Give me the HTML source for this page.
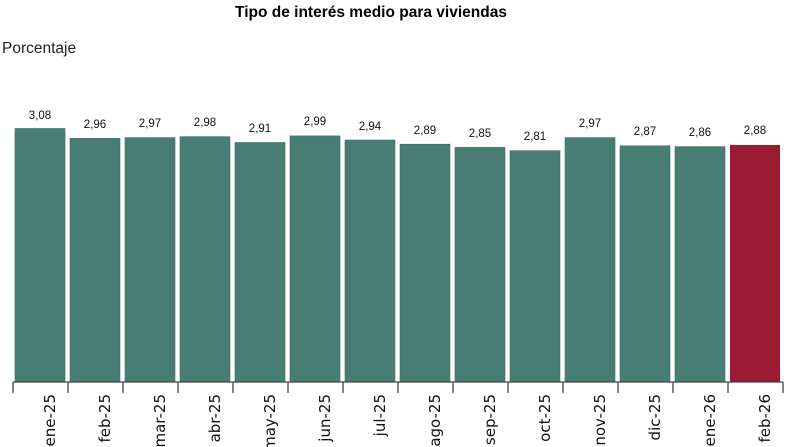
<!DOCTYPE html>
<html><head><meta charset="utf-8"><style>
html,body{margin:0;padding:0;background:#fff;}
svg{display:block;}
</style></head><body>
<svg width="794" height="447" viewBox="0 0 794 447" xmlns="http://www.w3.org/2000/svg" font-family="Liberation Sans, Arial, sans-serif">
<text x="371" y="17" text-anchor="middle" font-size="15.5" font-weight="bold" fill="#000">Tipo de interés medio para viviendas</text>
<text x="2" y="53" font-size="15.5" fill="#222">Porcentaje</text>
<g fill="#477d74" stroke="#3d6d65" stroke-width="0.6">
<rect x="15" y="128.5" width="50" height="253.5"/>
<rect x="70" y="138.4" width="50" height="243.6"/>
<rect x="125" y="137.6" width="50" height="244.4"/>
<rect x="180" y="136.7" width="50" height="245.3"/>
<rect x="235" y="142.5" width="50" height="239.5"/>
<rect x="290" y="135.9" width="50" height="246.1"/>
<rect x="345" y="140" width="50" height="242"/>
<rect x="400" y="144.2" width="50" height="237.8"/>
<rect x="455" y="147.4" width="50" height="234.6"/>
<rect x="510" y="150.7" width="50" height="231.3"/>
<rect x="565" y="137.6" width="50" height="244.4"/>
<rect x="620" y="145.8" width="50" height="236.2"/>
<rect x="675" y="146.6" width="50" height="235.4"/>
</g>
<rect x="730" y="145" width="50" height="237" fill="#9b1b33"/>
<g font-size="11.5" text-anchor="middle" fill="#111">
<text x="40" y="119">3,08</text>
<text x="95" y="128">2,96</text>
<text x="150" y="127">2,97</text>
<text x="205" y="126">2,98</text>
<text x="260" y="132">2,91</text>
<text x="315" y="125">2,99</text>
<text x="370" y="130">2,94</text>
<text x="425" y="134">2,89</text>
<text x="480" y="137">2,85</text>
<text x="535" y="140">2,81</text>
<text x="590" y="127">2,97</text>
<text x="645" y="135">2,87</text>
<text x="700" y="136">2,86</text>
<text x="755" y="134">2,88</text>
</g>
<g stroke="#444" stroke-width="1.3" fill="none">
<line x1="13" y1="382" x2="783" y2="382"/>
<line x1="13" y1="382" x2="13" y2="393"/><line x1="68" y1="382" x2="68" y2="393"/><line x1="123" y1="382" x2="123" y2="393"/><line x1="178" y1="382" x2="178" y2="393"/><line x1="233" y1="382" x2="233" y2="393"/><line x1="288" y1="382" x2="288" y2="393"/><line x1="343" y1="382" x2="343" y2="393"/><line x1="398" y1="382" x2="398" y2="393"/><line x1="453" y1="382" x2="453" y2="393"/><line x1="508" y1="382" x2="508" y2="393"/><line x1="563" y1="382" x2="563" y2="393"/><line x1="618" y1="382" x2="618" y2="393"/><line x1="673" y1="382" x2="673" y2="393"/><line x1="728" y1="382" x2="728" y2="393"/><line x1="783" y1="382" x2="783" y2="393"/>
</g>
<g font-family="DejaVu Sans, sans-serif" font-size="15" text-anchor="end" fill="#111">
<text transform="translate(55,394) rotate(-90)">ene-25</text>
<text transform="translate(110,394) rotate(-90)">feb-25</text>
<text transform="translate(165,394) rotate(-90)">mar-25</text>
<text transform="translate(220,394) rotate(-90)">abr-25</text>
<text transform="translate(275,394) rotate(-90)">may-25</text>
<text transform="translate(330,394) rotate(-90)">jun-25</text>
<text transform="translate(385,394) rotate(-90)">jul-25</text>
<text transform="translate(440,394) rotate(-90)">ago-25</text>
<text transform="translate(495,394) rotate(-90)">sep-25</text>
<text transform="translate(550,394) rotate(-90)">oct-25</text>
<text transform="translate(605,394) rotate(-90)">nov-25</text>
<text transform="translate(660,394) rotate(-90)">dic-25</text>
<text transform="translate(715,394) rotate(-90)">ene-26</text>
<text transform="translate(770,394) rotate(-90)">feb-26</text>
</g>
</svg>
</body></html>
